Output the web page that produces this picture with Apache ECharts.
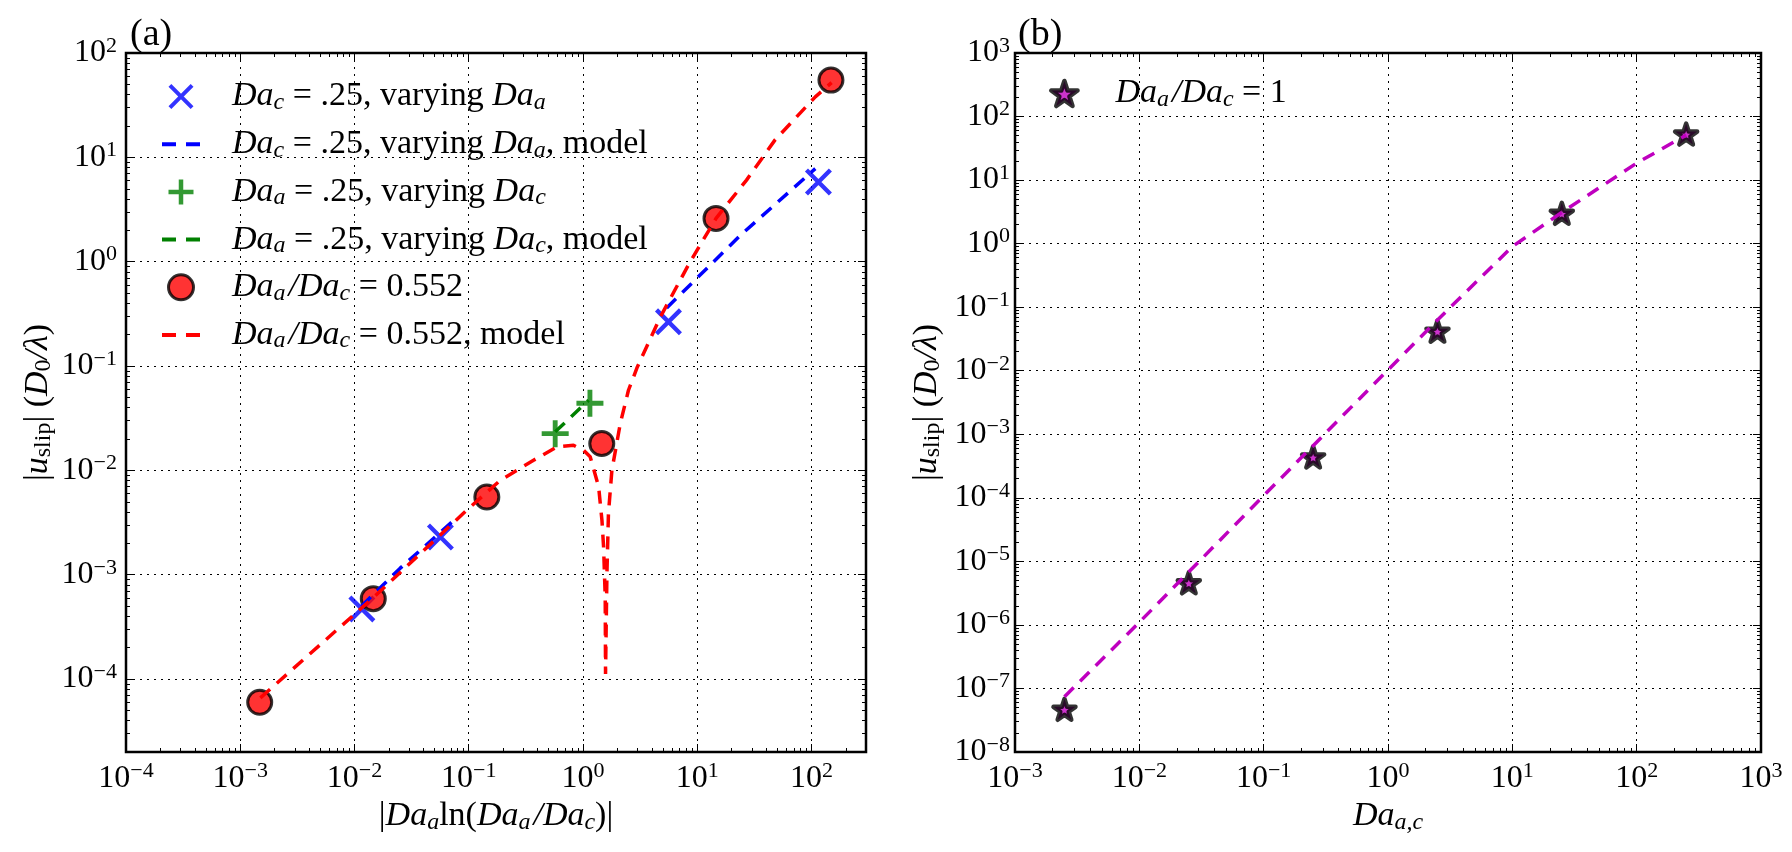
<!DOCTYPE html>
<html>
<head>
<meta charset="utf-8">
<script src="https://cdn.jsdelivr.net/npm/echarts@6/dist/echarts.min.js"></script>
<style>
  html, body { margin: 0; padding: 0; background: #fff; }
  #chart { width: 1792px; height: 852px; }
</style>
</head>
<body>
<div id="chart"></div>
<script>
// ---- panel (a) ----
const blueMarkX = [0.0116, 0.0565, 5.6, 115];
const blueMarkY = [4.7e-4, 2.3e-3, 0.265, 5.8];
const blueModelLoX = [0.0115, 0.025, 0.0735];
const blueModelLoY = [5.0e-4, 1.15e-3, 3.3e-3];
const blueModelHiX = [5.4, 24, 108];
const blueModelHiY = [0.36, 1.8, 7.8];
const greenMarkX = [0.571, 1.15];
const greenMarkY = [0.0225, 0.044];
const greenModelX = [0.571, 1.12];
const greenModelY = [0.0234, 0.047];
const redMarkX = [0.00148, 0.0146, 0.144, 1.46, 14.6, 148];
const redMarkY = [6.0e-5, 5.9e-4, 5.56e-3, 0.0181, 2.6, 55];
const redModelX = [0.0015, 0.015, 0.096, 0.188, 0.369, 0.59, 0.826, 1.01, 1.156, 1.37, 1.466, 1.514,
  1.565, 1.575, 1.62, 1.67, 1.79, 2.12, 2.5, 2.99, 4.76, 8.5, 14.6, 27, 48, 108, 150];
const redModelY = [6.6e-5, 6.2e-4, 4.15e-3, 8.0e-3, 0.0125, 0.0168, 0.0174, 0.0156, 0.0135, 7.0e-3, 3.3e-3, 1.85e-3,
  6.1e-4, 1.12e-4, 1.02e-3, 3.85e-3, 0.01, 0.0281, 0.0586, 0.098, 0.296, 0.96, 2.6, 6.05, 14.7, 38, 52];
const ticksAX = [1e-4, 1e-3, 1e-2, 1e-1, 1, 10, 100];
const ticksAY = [1e-4, 1e-3, 1e-2, 1e-1, 1, 10, 100];

// ---- panel (b) ----
const starX = [0.0025, 0.025, 0.25, 2.5, 25, 250];
const starY = [4.7e-8, 4.6e-6, 4.4e-4, 0.042, 3.0, 53];
const magentaModelX = [0.0025, 0.01, 0.1, 1, 2.5, 10, 25, 100, 250];
const magentaModelY = [7.4e-8, 1.1e-6, 1.08e-4, 0.0103, 0.063, 0.9, 3.1, 18.5, 51];
const ticksBX = [1e-3, 1e-2, 1e-1, 1, 10, 100, 1000];
const ticksBY = [1e-8, 1e-7, 1e-6, 1e-5, 1e-4, 1e-3, 1e-2, 1e-1, 1, 10, 100, 1000];

const FONT = 'Liberation Serif';
const BLACK = '#000';
const BLUE = '#0000ff', GREEN = '#008000', RED = '#ff0000', MAGENTA = '#bf00bf';

const X_PATH = 'path://M6.4 -6.4L106.4 93.6L93.6 106.4L-6.4 6.4Z M106.4 6.4L6.4 106.4L-6.4 93.6L93.6 -6.4Z';
const PLUS_PATH = 'path://M41 0L59 0L59 41L100 41L100 59L59 59L59 100L41 100L41 59L0 59L0 41L41 41Z';
const STAR_PATH = 'path://M50 0L61.23 34.55L97.55 34.55L68.17 55.9L79.39 90.45L50 69.1L20.61 90.45L31.83 55.9L2.45 34.55L38.77 34.55Z';
const DASH_PATH = 'path://M0 0M38 25M0 10.5L14 10.5L14 14.5L0 14.5Z M24 10.5L38 10.5L38 14.5L24 14.5Z';

function pairs(xs, ys) {
  return xs.map((x, i) => [x, ys[i]]);
}

// minor ticks at 2..9 x 10^k inside the axis range
function minorTicks(lo, hi) {
  const out = [];
  for (let e = Math.floor(Math.log10(lo)) - 1; e <= Math.ceil(Math.log10(hi)); e++) {
    for (let m = 2; m <= 9; m++) {
      const t = m * Math.pow(10, e);
      if (t > lo * 1.0001 && t < hi * 0.9999) out.push(t);
    }
  }
  return out;
}

function powLabel(v) {
  const e = Math.round(Math.log10(v));
  return '{b|10}{e|' + (e < 0 ? '\u2212' + (-e) : e) + '}';
}

const labelRich = {
  b: { fontFamily: FONT, fontSize: 32, lineHeight: 36, verticalAlign: 'middle', color: BLACK },
  e: { fontFamily: FONT, fontSize: 22, lineHeight: 20, verticalAlign: 'top', color: BLACK }
};
const textRich = {
  t: { fontFamily: FONT, fontSize: 34, lineHeight: 36, verticalAlign: 'middle', color: BLACK },
  i: { fontFamily: FONT, fontStyle: 'italic', fontSize: 34, lineHeight: 36, verticalAlign: 'middle', color: BLACK },
  s: { fontFamily: FONT, fontStyle: 'italic', fontSize: 24, lineHeight: 15, verticalAlign: 'bottom', color: BLACK },
  r: { fontFamily: FONT, fontSize: 24, lineHeight: 15, verticalAlign: 'bottom', color: BLACK },
  h: { width: 3, lineHeight: 36 },
  sp: { width: 27, lineHeight: 36 }
};

const legendText = {
  bx: '{sp| }{i|Da}{s|c}{t| = .25, varying }{i|Da}{s|a}',
  bm: '{sp| }{i|Da}{s|c}{t| = .25, varying }{i|Da}{s|a}{t|, model}',
  gp: '{sp| }{i|Da}{s|a}{t| = .25, varying }{i|Da}{s|c}',
  gm: '{sp| }{i|Da}{s|a}{t| = .25, varying }{i|Da}{s|c}{t|, model}',
  rc: '{sp| }{i|Da}{s|a}{h| }{i|/Da}{s|c}{t| = 0.552}',
  rm: '{sp| }{i|Da}{s|a}{h| }{i|/Da}{s|c}{t| = 0.552, model}',
  ms: '{sp| }{i|Da}{s|a}{h| }{i|/Da}{s|c}{t| = 1}'
};

// major+minor ticks on both sides; the first axis carries labels, grid and name
function makeAxes(dim, gridIndex, min, max, majors, opts) {
  const sides = dim === 'x' ? ['bottom', 'top'] : ['left', 'right'];
  const minors = minorTicks(min, max);
  const axes = [];
  sides.forEach(function (side) {
    [[majors, 8], [minors, 4]].forEach(function (tk) {
      axes.push({
        type: 'log', logBase: 10, gridIndex: gridIndex, position: side, min: min, max: max,
        axisLine: { show: false },
        axisTick: { show: true, inside: true, length: tk[1], customValues: tk[0], lineStyle: { color: BLACK, width: 1 } },
        axisLabel: { show: false },
        splitLine: { show: false }
      });
    });
  });
  Object.assign(axes[0], opts);
  return axes;
}

function mainOpts(majors, margin, name, nameGap, extra) {
  return Object.assign({
    axisLabel: { show: true, customValues: majors, margin: margin, formatter: powLabel, rich: labelRich },
    splitLine: { show: true, lineStyle: { color: BLACK, width: 1, type: [2, 5] } },
    name: name, nameLocation: 'middle', nameGap: nameGap,
    nameTextStyle: { fontFamily: FONT, fontSize: 34, color: BLACK, rich: textRich }
  }, extra || {});
}

const dashed = c => ({ color: c, width: 3.5, type: [13, 9] });

const xName = '{t||}{i|Da}{s|a}{t|ln(}{i|Da}{s|a}{h| }{i|/Da}{s|c}{t|)|}';
const yName = '{t||}{i|u}{r|slip}{t|| (}{i|D}{r|0}{i|/\u03bb}{t|)}';

const option = {
  animation: false,
  backgroundColor: '#fff',
  title: [
    { text: '(a)', left: 130, top: 16, padding: 0, textStyle: { fontFamily: FONT, fontSize: 38, fontWeight: 'normal', color: BLACK } },
    { text: '(b)', left: 1018, top: 16, padding: 0, textStyle: { fontFamily: FONT, fontSize: 38, fontWeight: 'normal', color: BLACK } }
  ],
  grid: [
    { left: 126, top: 53, width: 740, height: 699, show: true, borderColor: BLACK, borderWidth: 2.5, backgroundColor: 'transparent', outerBoundsMode: 'none' },
    { left: 1015, top: 53, width: 746, height: 699, show: true, borderColor: BLACK, borderWidth: 2.5, backgroundColor: 'transparent', outerBoundsMode: 'none' }
  ],
  xAxis: [].concat(
    makeAxes('x', 0, 1e-4, 300, ticksAX, mainOpts(ticksAX, 8.5, xName, 44)),
    makeAxes('x', 1, 1e-3, 1e3, ticksBX, mainOpts(ticksBX, 8.5, '{i|Da}{s|a,c}', 44, { interval: 1 }))
  ),
  yAxis: [].concat(
    makeAxes('y', 0, 2e-5, 100, ticksAY, mainOpts(ticksAY, 9, yName, 70)),
    makeAxes('y', 1, 1e-8, 1e3, ticksBY, mainOpts(ticksBY, 5, yName, 70, { interval: 1 }))
  ),
  legend: [
    {
      left: 162, top: 79.5, padding: 0, orient: 'vertical', itemWidth: 38, itemHeight: 25, itemGap: 12.7,
      selectedMode: false,
      formatter: n => legendText[n],
      textStyle: { fontFamily: FONT, fontSize: 34, color: BLACK, rich: textRich },
      data: [
        { name: 'bx', icon: X_PATH, itemStyle: { color: BLUE, borderWidth: 0 } },
        { name: 'bm', icon: DASH_PATH, itemStyle: { color: BLUE, borderWidth: 0 } },
        { name: 'gp', icon: PLUS_PATH, itemStyle: { color: GREEN, borderWidth: 0 } },
        { name: 'gm', icon: DASH_PATH, itemStyle: { color: GREEN, borderWidth: 0 } },
        { name: 'rc', icon: 'circle', itemStyle: { color: RED, borderColor: BLACK, borderWidth: 3 } },
        { name: 'rm', icon: DASH_PATH, itemStyle: { color: RED, borderWidth: 0 } }
      ]
    },
    {
      left: 1049, top: 76.5, padding: 0, orient: 'vertical', itemWidth: 38, itemHeight: 25,
      selectedMode: false,
      formatter: n => legendText[n],
      textStyle: { fontFamily: FONT, fontSize: 34, color: BLACK, rich: textRich },
      data: [
        { name: 'ms', icon: STAR_PATH, itemStyle: { color: MAGENTA, borderColor: BLACK, borderWidth: 4.5, borderJoin: 'round' } }
      ]
    }
  ],
  series: [
    { name: 'bx', type: 'scatter', xAxisIndex: 0, yAxisIndex: 0, symbol: X_PATH, symbolSize: 27,
      itemStyle: { color: BLUE }, data: pairs(blueMarkX, blueMarkY) },
    { name: 'bm', type: 'line', xAxisIndex: 0, yAxisIndex: 0, symbol: 'none', color: BLUE, lineStyle: dashed(BLUE),
      data: pairs(blueModelLoX, blueModelLoY).concat([['-', '-']], pairs(blueModelHiX, blueModelHiY)) },
    { name: 'gp', type: 'scatter', xAxisIndex: 0, yAxisIndex: 0, symbol: PLUS_PATH, symbolSize: 27,
      itemStyle: { color: GREEN }, data: pairs(greenMarkX, greenMarkY) },
    { name: 'gm', type: 'line', xAxisIndex: 0, yAxisIndex: 0, symbol: 'none', color: GREEN, lineStyle: dashed(GREEN),
      data: pairs(greenModelX, greenModelY) },
    { name: 'rc', type: 'scatter', xAxisIndex: 0, yAxisIndex: 0, symbol: 'circle', symbolSize: 24,
      itemStyle: { color: RED, borderColor: BLACK, borderWidth: 3 }, data: pairs(redMarkX, redMarkY) },
    { name: 'rm', type: 'line', xAxisIndex: 0, yAxisIndex: 0, symbol: 'none', color: RED, lineStyle: dashed(RED),
      data: pairs(redModelX, redModelY) },
    { name: 'ms', type: 'scatter', xAxisIndex: 4, yAxisIndex: 4, symbol: STAR_PATH, symbolSize: 22, symbolKeepAspect: true,
      itemStyle: { color: MAGENTA, borderColor: BLACK, borderWidth: 4.5, borderJoin: 'round' }, data: pairs(starX, starY) },
    { name: 'mm', type: 'line', xAxisIndex: 4, yAxisIndex: 4, symbol: 'none', color: MAGENTA, lineStyle: dashed(MAGENTA),
      data: pairs(magentaModelX, magentaModelY) }
  ]
};

const chart = echarts.init(document.getElementById('chart'));
chart.setOption(option);
</script>
</body>
</html>
